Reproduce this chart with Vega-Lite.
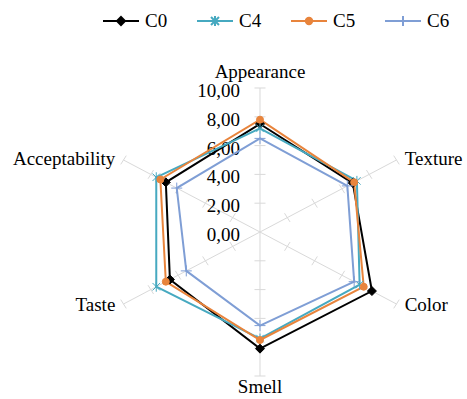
{
  "$schema": "https://vega.github.io/schema/vega-lite/v6.json",
  "width": 467,
  "height": 399,
  "autosize": "none",
  "padding": 0,
  "background": "white",
  "config": {"view": {"stroke": null}},
  "datasets": {
    "scores": [
      {"series": "C0", "attr": "Appearance", "value": 7.5},
      {"series": "C0", "attr": "Texture", "value": 6.8},
      {"series": "C0", "attr": "Color", "value": 8.2},
      {"series": "C0", "attr": "Smell", "value": 8.1},
      {"series": "C0", "attr": "Taste", "value": 6.6},
      {"series": "C0", "attr": "Acceptability", "value": 6.9},
      {"series": "C4", "attr": "Appearance", "value": 7.2},
      {"series": "C4", "attr": "Texture", "value": 7.1},
      {"series": "C4", "attr": "Color", "value": 7.3},
      {"series": "C4", "attr": "Smell", "value": 7.4},
      {"series": "C4", "attr": "Taste", "value": 7.6},
      {"series": "C4", "attr": "Acceptability", "value": 7.6},
      {"series": "C5", "attr": "Appearance", "value": 7.8},
      {"series": "C5", "attr": "Texture", "value": 6.9},
      {"series": "C5", "attr": "Color", "value": 7.6},
      {"series": "C5", "attr": "Smell", "value": 7.5},
      {"series": "C5", "attr": "Taste", "value": 6.9},
      {"series": "C5", "attr": "Acceptability", "value": 7.3},
      {"series": "C6", "attr": "Appearance", "value": 6.5},
      {"series": "C6", "attr": "Texture", "value": 6.4},
      {"series": "C6", "attr": "Color", "value": 6.9},
      {"series": "C6", "attr": "Smell", "value": 6.5},
      {"series": "C6", "attr": "Taste", "value": 5.4},
      {"series": "C6", "attr": "Acceptability", "value": 6.1}
    ],
    "spokes": [
      {"attr": "Appearance"}, {"attr": "Texture"}, {"attr": "Color"},
      {"attr": "Smell"}, {"attr": "Taste"}, {"attr": "Acceptability"}
    ],
    "ticks": [
      {"attr": "Appearance", "r": 2}, {"attr": "Appearance", "r": 4}, {"attr": "Appearance", "r": 6}, {"attr": "Appearance", "r": 8}, {"attr": "Appearance", "r": 10},
      {"attr": "Texture", "r": 2}, {"attr": "Texture", "r": 4}, {"attr": "Texture", "r": 6}, {"attr": "Texture", "r": 8}, {"attr": "Texture", "r": 10},
      {"attr": "Color", "r": 2}, {"attr": "Color", "r": 4}, {"attr": "Color", "r": 6}, {"attr": "Color", "r": 8}, {"attr": "Color", "r": 10},
      {"attr": "Smell", "r": 2}, {"attr": "Smell", "r": 4}, {"attr": "Smell", "r": 6}, {"attr": "Smell", "r": 8}, {"attr": "Smell", "r": 10},
      {"attr": "Taste", "r": 2}, {"attr": "Taste", "r": 4}, {"attr": "Taste", "r": 6}, {"attr": "Taste", "r": 8}, {"attr": "Taste", "r": 10},
      {"attr": "Acceptability", "r": 2}, {"attr": "Acceptability", "r": 4}, {"attr": "Acceptability", "r": 6}, {"attr": "Acceptability", "r": 8}, {"attr": "Acceptability", "r": 10}
    ],
    "levels": [{"v": 0}, {"v": 2}, {"v": 4}, {"v": 6}, {"v": 8}, {"v": 10}]
  },
  "layer": [
    {
      "data": {"name": "spokes"},
      "transform": [
        {"calculate": "PI/2 - indexof(['Appearance','Texture','Color','Smell','Taste','Acceptability'], datum.attr) * PI/3", "as": "a"},
        {"calculate": "10*cos(datum.a)", "as": "ex"},
        {"calculate": "10*sin(datum.a)", "as": "ey"},
        {"calculate": "0", "as": "zx"},
        {"calculate": "0", "as": "zy"}
      ],
      "mark": {"type": "rule", "stroke": "#D9D9D9", "strokeWidth": 1},
      "encoding": {
        "x": {"field": "zx", "type": "quantitative", "scale": {"domain": [-16.497, 13.135], "range": [0, 467], "nice": false, "zero": false}, "axis": null},
        "y": {"field": "zy", "type": "quantitative", "scale": {"domain": [-11.597, 16.111], "range": [399, 0], "nice": false, "zero": false}, "axis": null},
        "x2": {"field": "ex"},
        "y2": {"field": "ey"}
      }
    },
    {
      "data": {"name": "ticks"},
      "transform": [
        {"calculate": "PI/2 - indexof(['Appearance','Texture','Color','Smell','Taste','Acceptability'], datum.attr) * PI/3", "as": "a"},
        {"calculate": "datum.r*cos(datum.a) + 0.35*sin(datum.a)", "as": "t1x"},
        {"calculate": "datum.r*sin(datum.a) - 0.35*cos(datum.a)", "as": "t1y"},
        {"calculate": "datum.r*cos(datum.a) - 0.35*sin(datum.a)", "as": "t2x"},
        {"calculate": "datum.r*sin(datum.a) + 0.35*cos(datum.a)", "as": "t2y"}
      ],
      "mark": {"type": "rule", "stroke": "#D9D9D9", "strokeWidth": 1},
      "encoding": {
        "x": {"field": "t1x", "type": "quantitative", "scale": {"domain": [-16.497, 13.135], "range": [0, 467], "nice": false, "zero": false}, "axis": null},
        "y": {"field": "t1y", "type": "quantitative", "scale": {"domain": [-11.597, 16.111], "range": [399, 0], "nice": false, "zero": false}, "axis": null},
        "x2": {"field": "t2x"},
        "y2": {"field": "t2y"}
      }
    },
    {
      "data": {"name": "levels"},
      "transform": [
        {"calculate": "replace(format(datum.v, '.2f'), '.', ',')", "as": "lbl"},
        {"calculate": "0", "as": "zx"}
      ],
      "mark": {"type": "text", "align": "right", "baseline": "middle", "dx": -20, "dy": 3, "font": "Liberation Serif", "fontSize": 19, "fill": "#000000"},
      "encoding": {
        "x": {"field": "zx", "type": "quantitative", "scale": {"domain": [-16.497, 13.135], "range": [0, 467], "nice": false, "zero": false}, "axis": null},
        "y": {"field": "v", "type": "quantitative", "scale": {"domain": [-11.597, 16.111], "range": [399, 0], "nice": false, "zero": false}, "axis": null},
        "text": {"field": "lbl", "type": "nominal"}
      }
    },
    {
      "data": {"name": "spokes"},
      "transform": [
        {"calculate": "PI/2 - indexof(['Appearance','Texture','Color','Smell','Taste','Acceptability'], datum.attr) * PI/3", "as": "a"},
        {"filter": "cos(datum.a) > 0.1"},
        {"calculate": "10.6*cos(datum.a)", "as": "lx"},
        {"calculate": "10.2*sin(datum.a)", "as": "ly"}
      ],
      "mark": {"type": "text", "align": "left", "baseline": "middle", "font": "Liberation Serif", "fontSize": 19, "fill": "#000000"},
      "encoding": {
        "x": {"field": "lx", "type": "quantitative", "scale": {"domain": [-16.497, 13.135], "range": [0, 467], "nice": false, "zero": false}, "axis": null},
        "y": {"field": "ly", "type": "quantitative", "scale": {"domain": [-11.597, 16.111], "range": [399, 0], "nice": false, "zero": false}, "axis": null},
        "text": {"field": "attr", "type": "nominal"}
      }
    },
    {
      "data": {"name": "spokes"},
      "transform": [
        {"calculate": "PI/2 - indexof(['Appearance','Texture','Color','Smell','Taste','Acceptability'], datum.attr) * PI/3", "as": "a"},
        {"filter": "cos(datum.a) < -0.1"},
        {"calculate": "10.6*cos(datum.a)", "as": "lx"},
        {"calculate": "10.2*sin(datum.a)", "as": "ly"}
      ],
      "mark": {"type": "text", "align": "right", "baseline": "middle", "font": "Liberation Serif", "fontSize": 19, "fill": "#000000"},
      "encoding": {
        "x": {"field": "lx", "type": "quantitative", "scale": {"domain": [-16.497, 13.135], "range": [0, 467], "nice": false, "zero": false}, "axis": null},
        "y": {"field": "ly", "type": "quantitative", "scale": {"domain": [-11.597, 16.111], "range": [399, 0], "nice": false, "zero": false}, "axis": null},
        "text": {"field": "attr", "type": "nominal"}
      }
    },
    {
      "data": {"name": "spokes"},
      "transform": [
        {"calculate": "PI/2 - indexof(['Appearance','Texture','Color','Smell','Taste','Acceptability'], datum.attr) * PI/3", "as": "a"},
        {"filter": "abs(cos(datum.a)) <= 0.1"},
        {"calculate": "0", "as": "lx"},
        {"calculate": "sin(datum.a) > 0 ? 11.1 : -10.75", "as": "ly"}
      ],
      "mark": {"type": "text", "align": "center", "baseline": "middle", "font": "Liberation Serif", "fontSize": 19, "fill": "#000000"},
      "encoding": {
        "x": {"field": "lx", "type": "quantitative", "scale": {"domain": [-16.497, 13.135], "range": [0, 467], "nice": false, "zero": false}, "axis": null},
        "y": {"field": "ly", "type": "quantitative", "scale": {"domain": [-11.597, 16.111], "range": [399, 0], "nice": false, "zero": false}, "axis": null},
        "text": {"field": "attr", "type": "nominal"}
      }
    },
    {
      "data": {"name": "scores"},
      "transform": [
        {"calculate": "indexof(['Appearance','Texture','Color','Smell','Taste','Acceptability'], datum.attr)", "as": "k"},
        {"calculate": "PI/2 - datum.k * PI/3", "as": "a"},
        {"calculate": "datum.value*cos(datum.a)", "as": "px"},
        {"calculate": "datum.value*sin(datum.a)", "as": "py"}
      ],
      "mark": {"type": "line", "interpolate": "linear-closed", "strokeWidth": 2},
      "encoding": {
        "x": {"field": "px", "type": "quantitative", "scale": {"domain": [-16.497, 13.135], "range": [0, 467], "nice": false, "zero": false}, "axis": null},
        "y": {"field": "py", "type": "quantitative", "scale": {"domain": [-11.597, 16.111], "range": [399, 0], "nice": false, "zero": false}, "axis": null},
        "stroke": {"field": "series", "type": "nominal", "scale": {"domain": ["C0", "C4", "C5", "C6"], "range": ["#000000", "#46A9C0", "#E8843C", "#7F9ED5"]}, "legend": {"title": null, "orient": "none", "legendX": 110, "legendY": 10, "direction": "horizontal", "columns": 4, "symbolSize": 400, "symbolStrokeWidth": 2, "symbolOpacity": 1, "labelOffset": 13, "columnPadding": 25, "padding": 0, "labelFont": "Liberation Serif", "labelFontSize": 19, "labelColor": "#000000", "labelBaseline": "middle"}},
        "order": {"field": "k", "type": "quantitative"}
      }
    },
    {
      "data": {"name": "scores"},
      "transform": [
        {"filter": "datum.series == 'C0'"},
        {"calculate": "PI/2 - indexof(['Appearance','Texture','Color','Smell','Taste','Acceptability'], datum.attr) * PI/3", "as": "a"},
        {"calculate": "datum.value*cos(datum.a)", "as": "px"},
        {"calculate": "datum.value*sin(datum.a)", "as": "py"}
      ],
      "mark": {"type": "point", "shape": "M0,-1L1,0L0,1L-1,0Z", "size": 81, "filled": true, "fill": "#000000", "stroke": "#000000", "strokeWidth": 1, "opacity": 1},
      "encoding": {
        "x": {"field": "px", "type": "quantitative", "scale": {"domain": [-16.497, 13.135], "range": [0, 467], "nice": false, "zero": false}, "axis": null},
        "y": {"field": "py", "type": "quantitative", "scale": {"domain": [-11.597, 16.111], "range": [399, 0], "nice": false, "zero": false}, "axis": null}
      }
    },
    {
      "data": {"name": "scores"},
      "transform": [
        {"filter": "datum.series == 'C4'"},
        {"calculate": "PI/2 - indexof(['Appearance','Texture','Color','Smell','Taste','Acceptability'], datum.attr) * PI/3", "as": "a"},
        {"calculate": "datum.value*cos(datum.a)", "as": "px"},
        {"calculate": "datum.value*sin(datum.a)", "as": "py"}
      ],
      "mark": {"type": "point", "shape": "M0,-1V1M-0.75,-0.75L0.75,0.75M-0.75,0.75L0.75,-0.75", "size": 100, "filled": false, "stroke": "#46A9C0", "strokeWidth": 1, "opacity": 1},
      "encoding": {
        "x": {"field": "px", "type": "quantitative", "scale": {"domain": [-16.497, 13.135], "range": [0, 467], "nice": false, "zero": false}, "axis": null},
        "y": {"field": "py", "type": "quantitative", "scale": {"domain": [-11.597, 16.111], "range": [399, 0], "nice": false, "zero": false}, "axis": null}
      }
    },
    {
      "data": {"name": "scores"},
      "transform": [
        {"filter": "datum.series == 'C5'"},
        {"calculate": "PI/2 - indexof(['Appearance','Texture','Color','Smell','Taste','Acceptability'], datum.attr) * PI/3", "as": "a"},
        {"calculate": "datum.value*cos(datum.a)", "as": "px"},
        {"calculate": "datum.value*sin(datum.a)", "as": "py"}
      ],
      "mark": {"type": "point", "shape": "circle", "size": 49, "filled": true, "fill": "#E8843C", "stroke": "#E8843C", "strokeWidth": 1, "opacity": 1},
      "encoding": {
        "x": {"field": "px", "type": "quantitative", "scale": {"domain": [-16.497, 13.135], "range": [0, 467], "nice": false, "zero": false}, "axis": null},
        "y": {"field": "py", "type": "quantitative", "scale": {"domain": [-11.597, 16.111], "range": [399, 0], "nice": false, "zero": false}, "axis": null}
      }
    },
    {
      "data": {"name": "scores"},
      "transform": [
        {"filter": "datum.series == 'C6'"},
        {"calculate": "PI/2 - indexof(['Appearance','Texture','Color','Smell','Taste','Acceptability'], datum.attr) * PI/3", "as": "a"},
        {"calculate": "datum.value*cos(datum.a)", "as": "px"},
        {"calculate": "datum.value*sin(datum.a)", "as": "py"}
      ],
      "mark": {"type": "point", "shape": "M-1,0H1M0,-1V1", "size": 121, "filled": false, "stroke": "#7F9ED5", "strokeWidth": 1, "opacity": 1},
      "encoding": {
        "x": {"field": "px", "type": "quantitative", "scale": {"domain": [-16.497, 13.135], "range": [0, 467], "nice": false, "zero": false}, "axis": null},
        "y": {"field": "py", "type": "quantitative", "scale": {"domain": [-11.597, 16.111], "range": [399, 0], "nice": false, "zero": false}, "axis": null}
      }
    },
    {
      "data": {"name": "scores"},
      "transform": [
        {"calculate": "PI/2 - indexof(['Appearance','Texture','Color','Smell','Taste','Acceptability'], datum.attr) * PI/3", "as": "a"},
        {"calculate": "datum.value*cos(datum.a)", "as": "px"},
        {"calculate": "datum.value*sin(datum.a)", "as": "py"}
      ],
      "mark": {"type": "point", "filled": true, "fillOpacity": 0, "strokeOpacity": 0, "size": 100, "strokeWidth": 2},
      "encoding": {
        "x": {"field": "px", "type": "quantitative", "scale": {"domain": [-16.497, 13.135], "range": [0, 467], "nice": false, "zero": false}, "axis": null},
        "y": {"field": "py", "type": "quantitative", "scale": {"domain": [-11.597, 16.111], "range": [399, 0], "nice": false, "zero": false}, "axis": null},
        "shape": {
          "field": "series", "type": "nominal",
          "scale": {"domain": ["C0", "C4", "C5", "C6"], "range": [
            "M-1.8,0H1.8M0,-0.4L0.4,0L0,0.4L-0.4,0Z",
            "M-1.8,0H1.8M0,-0.5V0.5M-0.4,-0.4L0.4,0.4M-0.4,0.4L0.4,-0.4",
            "M-1.8,0H1.8M0.32,0A0.32,0.32,0,1,1,-0.32,0A0.32,0.32,0,1,1,0.32,0Z",
            "M-1.8,0H1.8M0,-0.5V0.5"
          ]},
          "legend": {"title": null, "orient": "none", "legendX": 110, "legendY": 10, "direction": "horizontal", "columns": 4, "symbolSize": 400, "symbolStrokeWidth": 2, "symbolOpacity": 1, "symbolFillOpacity": 1, "symbolStrokeOpacity": 1, "labelOffset": 13, "columnPadding": 25, "padding": 0, "labelFont": "Liberation Serif", "labelFontSize": 19, "labelColor": "#000000", "labelBaseline": "middle"}
        },
        "fill": {
          "field": "series", "type": "nominal",
          "scale": {"domain": ["C0", "C4", "C5", "C6"], "range": ["#000000", "#46A9C0", "#E8843C", "#7F9ED5"]},
          "legend": {"title": null, "orient": "none", "legendX": 110, "legendY": 10, "direction": "horizontal", "columns": 4, "symbolSize": 400, "symbolStrokeWidth": 2, "symbolOpacity": 1, "labelOffset": 13, "columnPadding": 25, "padding": 0, "labelFont": "Liberation Serif", "labelFontSize": 19, "labelColor": "#000000", "labelBaseline": "middle"}
        },
        "stroke": {
          "field": "series", "type": "nominal",
          "scale": {"domain": ["C0", "C4", "C5", "C6"], "range": ["#000000", "#46A9C0", "#E8843C", "#7F9ED5"]},
          "legend": {"title": null, "orient": "none", "legendX": 110, "legendY": 10, "direction": "horizontal", "columns": 4, "symbolSize": 400, "symbolStrokeWidth": 2, "symbolOpacity": 1, "labelOffset": 13, "columnPadding": 25, "padding": 0, "labelFont": "Liberation Serif", "labelFontSize": 19, "labelColor": "#000000", "labelBaseline": "middle"}
        }
      }
    }
  ]
}
